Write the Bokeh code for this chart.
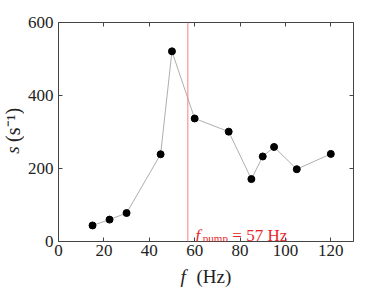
import math
from bokeh.plotting import figure
from bokeh.models import LinearAxis, FixedTicker, Range1d, Span, Label
from bokeh.layouts import row, column
from bokeh.core.properties import value
from bokeh.embed import file_html
from bokeh.resources import INLINE

freq = [15, 22.5, 30, 45, 50, 60, 75, 85, 90, 95, 105, 120]
s_vals = [44, 60, 78, 239, 521, 337, 301, 171, 233, 259, 198, 240]
x_ticks = [0, 20, 40, 60, 80, 100, 120]
y_ticks = [0, 200, 400, 600]
f_pump = 57

FONT = "Liberation Serif"
TXT = "#222222"
RED = "#e8262b"

YW = 24   # width of the y-label strip
XH = 27   # height of the x-label strip
W, H = 390, 293

p = figure(width=W - YW, height=H - XH, x_range=Range1d(0, 130), y_range=Range1d(0, 600),
           output_backend="svg", toolbar_location=None,
           min_border_left=34, min_border_right=37, min_border_top=22, min_border_bottom=25)
p.xgrid.visible = False
p.ygrid.visible = False
p.outline_line_color = None

def style_axis(ax, labels=True):
    ax.major_tick_in = 4
    ax.major_tick_out = 0
    ax.minor_tick_line_color = None
    ax.axis_line_color = "#444444"
    ax.major_tick_line_color = "#444444"
    ax.major_label_text_font = FONT
    ax.major_label_text_font_size = "17px" if labels else "0px"
    ax.major_label_text_color = TXT if labels else None
    ax.major_label_standoff = 3 if labels else 0

p.xaxis.ticker = FixedTicker(ticks=x_ticks)
p.yaxis.ticker = FixedTicker(ticks=y_ticks)
for ax in p.xaxis + p.yaxis:
    style_axis(ax)
p.yaxis.major_label_standoff = 5

top = LinearAxis(ticker=FixedTicker(ticks=x_ticks))
right = LinearAxis(ticker=FixedTicker(ticks=y_ticks))
style_axis(top, False)
style_axis(right, False)
p.add_layout(top, "above")
p.add_layout(right, "right")

p.add_layout(Span(location=f_pump, dimension="height", line_color="#f08080", line_width=1))

p.line(freq, s_vals, line_color="#999999", line_width=0.8)
p.scatter(freq, s_vals, size=7, fill_color="black", line_color="black")

def lab(x, y, t, size, fstyle="normal", color=RED):
    p.add_layout(Label(x=x, y=y, text=t, text_font=FONT, text_font_size=size,
                       text_font_style=fstyle, text_color=color, text_align="left",
                       text_baseline="alphabetic"))

# f_pump annotation
lab(60.4, 16.5, "f", "17px", fstyle="italic")
lab(63.6, 10.5, "pump", "11px")
lab(76.6, 16.5, "= 57 Hz", "17px")

def strip(width, height):
    f = figure(width=width, height=height, x_range=Range1d(0, width), y_range=Range1d(0, height),
               output_backend="svg", toolbar_location=None,
               min_border=0, min_border_left=0, min_border_right=0,
               min_border_top=0, min_border_bottom=0)
    f.axis.visible = False
    f.grid.visible = False
    f.outline_line_color = None
    return f

# x-axis label strip: "f (Hz)"
xl = strip(W, XH)
xl.text(x=[180], y=[XH - 10], text=["f"], text_font=value(FONT), text_font_size="19px",
        text_font_style="italic", text_color=TXT, text_align="left", text_baseline="middle")
xl.text(x=[196], y=[XH - 10], text=["(Hz)"], text_font=value(FONT), text_font_size="19px",
        text_color=TXT, text_align="left", text_baseline="middle")

# y-axis label strip: "s (s^-1)"
yl = strip(YW, H - XH)
yl.text(x=[12], y=[H - XH - 155], text=["s"], text_font=value(FONT), text_font_size="19px",
        text_font_style="italic", text_color=TXT, text_align="center", text_baseline="middle",
        angle=math.pi / 2)
yl.text(x=[12], y=[H - XH - 145], text=["(s\u207b\u00b9)"], text_font=value(FONT),
        text_font_size="20px", text_color=TXT, text_align="left", text_baseline="middle",
        angle=math.pi / 2)

layout = column(row(yl, p, spacing=0), xl, spacing=0)

open("out.html", "w").write(file_html(layout, INLINE))
